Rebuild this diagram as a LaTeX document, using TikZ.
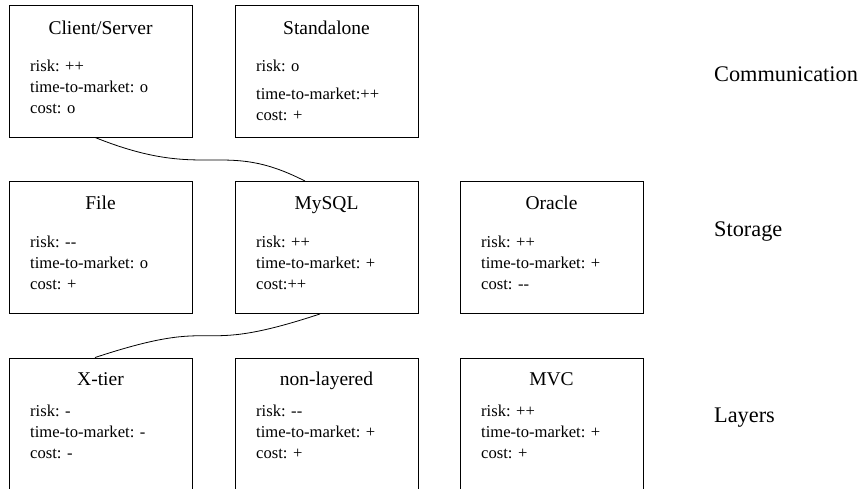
\documentclass[tikz,border=0pt]{standalone}
\usepackage{fontspec}
\setmainfont{LiberationSerif}[Extension=.ttf,UprightFont=*-Regular,Ligatures=NoCommon]
\tikzset{
  box/.style={draw,line width=0.9pt,minimum width=183pt,minimum height=132pt,inner sep=0pt},
  boxtitle/.style={anchor=base,inner sep=0pt,font=\rmfamily\fontsize{19.5}{24}\selectfont},
  attr/.style={anchor=north west,align=left,inner sep=0pt,font=\rmfamily\fontsize{16.6}{21}\selectfont},
  rowlabel/.style={anchor=base west,inner sep=0pt,font=\rmfamily\fontsize{22.3}{27}\selectfont},
  link/.style={line width=0.8pt}
}
\begin{document}
\begin{tikzpicture}[x=1pt,y=-1pt]
\useasboundingbox (0,0) rectangle (860,489);
% communication
\node[box] (cs) at (100.5,71) {};
\node[box] (sa) at (326.5,71) {};
\node[boxtitle] (cs-t) at (100.5,35) {Client/Server};
\node[boxtitle] (sa-t) at (326.5,35) {Standalone};
\node[attr] (cs-a) at (30,59.3) {risk: ++\\time-to-market: o\\cost: o};
\node[attr] (sa-a) at (256,59.3) {risk: o\\[7pt]time-to-market:++\\cost: +};
% storage
\node[box] (file) at (100.5,247.5) {};
\node[box] (mysql) at (326.5,247.5) {};
\node[box] (oracle) at (551.5,247.5) {};
\node[boxtitle] (file-t) at (100.5,209.5) {File};
\node[boxtitle] (mysql-t) at (326.5,209.5) {MySQL};
\node[boxtitle] (oracle-t) at (551.5,209.5) {Oracle};
\node[attr] (file-a) at (30,235.8) {risk: -{}-\\time-to-market: o\\cost: +};
\node[attr] (mysql-a) at (256,235.8) {risk: ++\\time-to-market: +\\cost:++};
\node[attr] (oracle-a) at (481,235.8) {risk: ++\\time-to-market: +\\cost: -{}-};
% layers
\node[box] (xtier) at (100.5,424) {};
\node[box] (nonlay) at (326.5,424) {};
\node[box] (mvc) at (551.5,424) {};
\node[boxtitle] (xtier-t) at (100.5,385.5) {X-tier};
\node[boxtitle] (nonlay-t) at (326.5,385.5) {non-layered};
\node[boxtitle] (mvc-t) at (551.5,385.5) {MVC};
\node[attr] (xtier-a) at (30,404.8) {risk: -\\time-to-market: -\\cost: -};
\node[attr] (nonlay-a) at (256,404.8) {risk: -{}-\\time-to-market: +\\cost: +};
\node[attr] (mvc-a) at (481,404.8) {risk: ++\\time-to-market: +\\cost: +};
% row labels
\node[rowlabel] (comm) at (714,82) {Communication};
\node[rowlabel] (stor) at (714,237) {Storage};
\node[rowlabel] (lay) at (714,422) {Layers};
% chosen path
\draw[link] ([xshift=-5.5pt]cs.south) .. controls +(112,45) and +(-84,-43) .. ([xshift=-21.5pt]mysql.north);
\draw[link] ([xshift=-6.5pt]mysql.south) .. controls +(-133,44) and +(133,-44) .. ([xshift=-5.5pt]xtier.north);
\end{tikzpicture}
\end{document}
